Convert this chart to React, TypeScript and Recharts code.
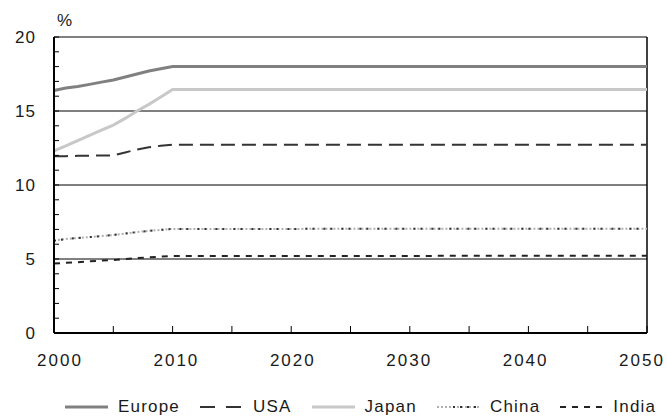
import React from 'react';
import { LineChart, Line, XAxis, YAxis, ReferenceLine, Legend } from 'recharts';

const years = [2000, 2001, 2002, 2003, 2004, 2005, 2006, 2007, 2008, 2009, 2010, 2050];
const europe = [16.38, 16.55, 16.65, 16.8, 16.95, 17.1, 17.3, 17.5, 17.7, 17.85, 18.0, 18.0];
const usa = [11.95, 11.95, 11.97, 11.98, 12.0, 12.0, 12.2, 12.4, 12.55, 12.65, 12.72, 12.72];
const japan = [12.3, 12.65, 13.0, 13.35, 13.7, 14.05, 14.5, 15.0, 15.45, 15.95, 16.45, 16.45];
const china = [6.24, 6.35, 6.42, 6.48, 6.55, 6.62, 6.72, 6.82, 6.9, 6.97, 7.03, 7.05];
const india = [4.7, 4.74, 4.78, 4.84, 4.89, 4.93, 5.0, 5.06, 5.11, 5.16, 5.2, 5.22];

const yTicks = Array.from({ length: 21 }, (_, i) => i);
const xTicks = [2000, 2005, 2010, 2015, 2020, 2025, 2030, 2035, 2040, 2045, 2050];
const gridValues = [5, 10, 15, 20];

const data = years.map((y, i) => ({
  year: y,
  Europe: europe[i],
  USA: usa[i],
  Japan: japan[i],
  China: china[i],
  India: india[i],
}));

const FONT = '"Liberation Sans", Arial, sans-serif';
const TEXT = '#1a1a1a';

const YTick = (props: any) => {
  const { x, y, payload } = props;
  const v = payload.value;
  return (
    <g>
      <line x1={x} x2={x + 5} y1={y} y2={y} stroke="#000" strokeWidth={1} />
      {v % 5 === 0 && (
        <text x={x - 18} y={y + 6} textAnchor="end" fontSize={17} letterSpacing={1} fontFamily={FONT} fill={TEXT}>
          {v}
        </text>
      )}
    </g>
  );
};

const XTick = (props: any) => {
  const { x, y, payload } = props;
  const v = payload.value;
  const dx = 6 - (v - 2000) * 0.22;
  return (
    <g>
      <line x1={x} x2={x} y1={y} y2={y - 7} stroke="#000" strokeWidth={1} />
      {v % 10 === 0 && (
        <text x={x + dx} y={y + 33} textAnchor="middle" fontSize={17} letterSpacing={2} fontFamily={FONT} fill={TEXT}>
          {v}
        </text>
      )}
    </g>
  );
};

const legendItems = [
  { name: 'Europe', kind: 'europe' },
  { name: 'USA', kind: 'usa' },
  { name: 'Japan', kind: 'japan' },
  { name: 'China', kind: 'china' },
  { name: 'India', kind: 'india' },
];

const Sample = ({ kind }: { kind: string }) => {
  let inner: React.ReactNode = null;
  if (kind === 'europe') inner = <line x1={0} x2={43} y1={6} y2={6} stroke="#808080" strokeWidth={3} />;
  if (kind === 'usa') inner = <line x1={0} x2={43} y1={6} y2={6} stroke="#333" strokeWidth={2} strokeDasharray="15 11" />;
  if (kind === 'japan') inner = <line x1={0} x2={43} y1={6} y2={6} stroke="#c8c8c8" strokeWidth={3} />;
  if (kind === 'china')
    inner = (
      <g>
        <line x1={0} x2={43} y1={6} y2={6} stroke="#b0b0b0" strokeWidth={2} strokeDasharray="2 2" />
        <line x1={16} x2={43} y1={6} y2={6} stroke="#333" strokeWidth={2} strokeDasharray="2 5" />
      </g>
    );
  if (kind === 'india') inner = <line x1={0} x2={43} y1={6} y2={6} stroke="#222" strokeWidth={2} strokeDasharray="6 6" />;
  return (
    <svg width={43} height={12} style={{ display: 'block' }}>
      {inner}
    </svg>
  );
};

const renderLegend = () => (
  <div style={{ display: 'flex', alignItems: 'center', paddingLeft: 65, fontFamily: FONT, fontSize: 17, letterSpacing: 1.2, color: TEXT }}>
    {legendItems.map((it) => (
      <div key={it.name} style={{ display: 'flex', alignItems: 'center', marginRight: 20 }}>
        <Sample kind={it.kind} />
        <span style={{ marginLeft: 10 }}>{it.name}</span>
      </div>
    ))}
  </div>
);

const PercentLabel = (props: any) => {
  const vb = props.viewBox || {};
  return (
    <text x={vb.x + vb.width + 3} y={vb.y - 11} fontSize={17} fontFamily={FONT} fill={TEXT}>
      %
    </text>
  );
};

export default function App() {
  return (
    <div style={{ position: 'absolute', left: 0, top: 0, background: '#fff' }}>
      <LineChart width={667} height={418} data={data} margin={{ top: 37, right: 20, left: 0, bottom: 0 }}>
        <XAxis
          dataKey="year"
          type="number"
          domain={[2000, 2050]}
          ticks={xTicks}
          interval={0}
          height={85}
          tickSize={0}
          tickMargin={0}
          tickLine={false}
          axisLine={{ stroke: '#000', strokeWidth: 2 }}
          tick={<XTick />}
        />
        <YAxis
          type="number"
          domain={[0, 20]}
          ticks={yTicks}
          interval={0}
          width={54}
          tickSize={0}
          tickMargin={0}
          tickLine={false}
          axisLine={{ stroke: '#000', strokeWidth: 2 }}
          tick={<YTick />}
          label={{ value: '%', content: <PercentLabel /> }}
        />
        {gridValues.map((g) => (
          <ReferenceLine key={g} y={g} stroke="#000" strokeWidth={1} ifOverflow="extendDomain" />
        ))}
        <ReferenceLine x={2050} stroke="#000" strokeWidth={1.5} />
        <Line type="linear" dataKey="India" stroke="#222" strokeWidth={2} strokeDasharray="6 6" dot={false} isAnimationActive={false} />
        <Line type="linear" dataKey="China" stroke="#b0b0b0" strokeWidth={2} strokeDasharray="2 2" dot={false} isAnimationActive={false} />
        <Line type="linear" dataKey="China" stroke="#333" strokeWidth={2} strokeDasharray="2 5 2 9" dot={false} isAnimationActive={false} legendType="none" />
        <Line type="linear" dataKey="USA" stroke="#333" strokeWidth={2} strokeDasharray="14 7" dot={false} isAnimationActive={false} />
        <Line type="linear" dataKey="Japan" stroke="#c8c8c8" strokeWidth={3} dot={false} isAnimationActive={false} />
        <Line type="linear" dataKey="Europe" stroke="#808080" strokeWidth={3} dot={false} isAnimationActive={false} />
        <Legend
          layout="horizontal"
          verticalAlign="middle"
          align="center"
          content={renderLegend}
          wrapperStyle={{ left: 0, top: 397, width: 667, height: 18 }}
        />
      </LineChart>
    </div>
  );
}
